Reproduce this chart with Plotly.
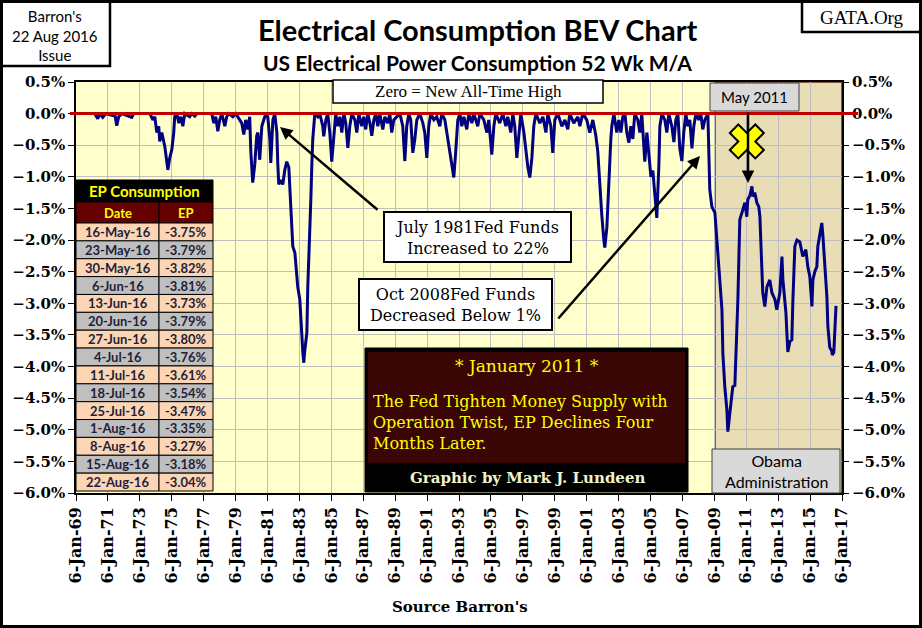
# Electrical Consumption BEV chart (US power consumption, 52 wk M/A, % below all-time high)
import plotly.graph_objects as go
import pandas as pd
from datetime import datetime, timedelta

years = [
    1969.00, 1970.19, 1970.38, 1970.50, 1970.69, 1970.88, 1971.32, 1971.44, 1971.57, 1971.69, 1971.88,
    1972.51, 1972.63, 1973.64, 1973.83, 1973.95,
    1974.08, 1974.20, 1974.26, 1974.39, 1974.58, 1974.64, 1974.77, 1974.89, 1975.02, 1975.14, 1975.20,
    1975.33, 1975.46, 1975.58, 1975.71, 1975.83, 1976.14, 1976.27, 1976.46, 1976.58,
    1977.52, 1977.65, 1977.77, 1977.90, 1978.02, 1978.15, 1978.34, 1978.46, 1978.59, 1978.84,
    1979.03, 1979.40, 1979.53, 1979.65, 1979.78, 1979.90, 1979.97,
    1980.09, 1980.22, 1980.34, 1980.41, 1980.53, 1980.66, 1980.78, 1980.91,
    1981.03, 1981.16, 1981.22, 1981.28, 1981.35, 1981.47, 1981.60, 1981.66, 1981.72, 1981.85, 1981.97,
    1982.10, 1982.22, 1982.35, 1982.41, 1982.54, 1982.60, 1982.73, 1982.85, 1982.91,
    1983.04, 1983.10, 1983.16, 1983.23, 1983.29, 1983.35, 1983.48, 1983.54, 1983.66, 1983.73, 1983.79, 1983.85, 1983.98,
    1984.17, 1984.29, 1984.48, 1984.54, 1984.67, 1984.79, 1984.92,
    1985.04, 1985.17, 1985.29, 1985.42, 1985.55, 1985.67, 1985.80, 1985.92,
    1986.05, 1986.17, 1986.30, 1986.49, 1986.61, 1986.74, 1986.92,
    1987.05, 1987.17, 1987.30, 1987.43, 1987.55, 1987.68, 1987.80, 1987.93,
    1988.05, 1988.24, 1988.37, 1988.55, 1988.68, 1988.80, 1988.93,
    1989.12, 1989.31, 1989.49, 1989.62, 1989.74, 1989.87, 1989.99,
    1990.12, 1990.25, 1990.37, 1990.56, 1990.75, 1990.87,
    1991.00, 1991.12, 1991.25, 1991.44, 1991.62, 1991.81, 1991.94,
    1992.13, 1992.31, 1992.44, 1992.56, 1992.69, 1992.81, 1992.94,
    1993.07, 1993.19, 1993.32, 1993.50, 1993.63, 1993.82, 1993.94,
    1994.19, 1994.32, 1994.57, 1994.76, 1994.88,
    1995.07, 1995.20, 1995.32, 1995.57, 1995.76, 1995.95,
    1996.07, 1996.26, 1996.39, 1996.51, 1996.64, 1996.76, 1996.89,
    1997.08, 1997.20, 1997.33, 1997.45, 1997.58, 1997.70, 1997.83,
    1998.08, 1998.27, 1998.46, 1998.58, 1998.77, 1998.89,
    1999.02, 1999.21, 1999.46, 1999.65, 1999.83, 1999.96,
    2000.21, 2000.46, 2000.59, 2000.77,
    2001.02, 2001.21, 2001.40, 2001.59, 2001.71, 2001.84, 2001.96,
    2002.09, 2002.15, 2002.28, 2002.40, 2002.53, 2002.59, 2002.72, 2002.90,
    2003.03, 2003.16, 2003.28, 2003.41, 2003.53, 2003.66, 2003.78, 2003.91,
    2004.03, 2004.22, 2004.35, 2004.47, 2004.66, 2004.79, 2004.91,
    2005.04, 2005.16, 2005.29, 2005.41, 2005.54, 2005.60, 2005.73, 2005.91,
    2006.04, 2006.16, 2006.35, 2006.48, 2006.60, 2006.73, 2006.85, 2006.98,
    2007.10, 2007.23, 2007.35, 2007.48, 2007.61, 2007.73, 2007.86,
    2008.04, 2008.17, 2008.29, 2008.42, 2008.61, 2008.73, 2008.86,
    2009.05, 2009.23, 2009.36, 2009.49, 2009.55, 2009.61, 2009.67, 2009.80, 2009.86, 2009.99,
    2010.11, 2010.17, 2010.30, 2010.43, 2010.49, 2010.61, 2010.74, 2010.93,
    2011.05, 2011.11, 2011.24, 2011.37, 2011.43, 2011.55, 2011.68, 2011.80, 2011.87, 2011.99,
    2012.05, 2012.18, 2012.31, 2012.49, 2012.62, 2012.81, 2012.93,
    2013.12, 2013.25, 2013.31, 2013.50, 2013.56, 2013.62, 2013.75, 2013.87, 2013.93,
    2014.06, 2014.19, 2014.37, 2014.56, 2014.75, 2014.87,
    2015.00, 2015.13, 2015.19, 2015.31, 2015.44, 2015.50, 2015.63, 2015.75, 2015.81, 2015.94,
    2016.07, 2016.13, 2016.25,
]
ep_pct = [
    0, 0, -0.08, 0, -0.06, 0, -0.03, 0, -0.19, -0.05, 0,
    -0.06, 0, 0, -0.10, -0.05,
    -0.30, -0.20, -0.44, -0.30, -0.52, -0.65, -0.89, -0.70, -0.57, -0.30, -0.05,
    0, -0.15, -0.05, -0.20, 0, -0.05, 0, -0.04, 0,
    0, -0.15, -0.05, -0.28, -0.10, 0, -0.20, -0.05, 0, -0.05,
    0, -0.15, -0.33, -0.10, -0.25, -0.05, -0.60,
    -1.09, -0.80, -0.35, -0.30, -0.73, -0.20, -0.10, 0,
    -0.05, -0.40, -0.78, -0.50, -0.10, 0, -0.30, -0.80, -1.12, -1.05, -1.12,
    -0.89, -0.76, -0.85, -1.15, -2.00, -2.10, -2.20, -2.52, -2.74,
    -2.94, -3.15, -3.47, -3.78, -3.94, -3.75, -3.47, -2.74, -2.04, -1.36, -0.84, -0.41, 0,
    -0.05, 0, -0.20, -0.36, -0.10, 0, -0.30,
    -0.76, -0.30, 0, -0.20, -0.05, -0.30, 0, -0.15,
    -0.54, -0.20, 0, -0.10, -0.30, 0, -0.20,
    -0.05, -0.25, 0, -0.15, -0.35, -0.10, 0, -0.20,
    0, -0.25, -0.05, -0.15, 0, -0.30, -0.10,
    -0.05, 0, -0.20, -0.75, -0.20, 0, -0.10,
    -0.62, -0.40, -0.10, 0, -0.15, -0.30,
    -0.70, -0.20, 0, -0.10, -0.05, -0.20, 0,
    -0.10, -0.40, -0.60, -0.80, -1.01, -0.60, -0.10,
    0, -0.20, -0.05, -0.25, 0, -0.15, 0,
    -0.20, 0, -0.10, -0.30, -0.10,
    -0.65, -0.20, 0, -0.15, 0, -0.20,
    -0.05, -0.30, 0, -0.20, -0.70, -0.30, 0,
    -0.30, -0.60, -0.85, -1.01, -0.70, -0.20, 0,
    -0.15, -0.05, -0.30, 0, -0.20, -0.62,
    -0.10, 0, -0.20, -0.10, -0.25, 0,
    -0.15, -0.05, -0.20, 0,
    -0.10, -0.30, -0.10, -0.35, -0.60, -1.20, -1.60,
    -2.00, -2.12, -1.80, -1.00, -0.40, -0.20, 0, -0.30,
    -0.10, -0.30, -0.05, 0, -0.30, -0.46, -0.20, -0.40,
    0, -0.10, -0.30, 0, -0.76, -0.30, -0.70,
    -1.00, -0.90, -1.30, -1.65, -0.80, -0.20, 0, -0.10,
    -0.30, 0, -0.20, -0.45, -0.10, 0, -0.55, -0.75,
    -0.30, 0, -0.20, -0.10, -0.55, -0.20, 0,
    -0.10, 0, -0.25, -0.10, 0, -1.20, -1.47,
    -1.57, -2.15, -2.60, -3.10, -3.80, -4.16, -4.32, -4.68, -5.03, -4.73,
    -4.47, -4.32, -4.30, -3.47, -2.94, -1.68, -1.57, -1.41,
    -1.63, -1.36, -1.30, -1.15, -1.31, -1.25, -1.41, -1.47, -1.63, -2.42,
    -2.83, -3.05, -2.74, -2.63, -2.83, -2.94, -3.10,
    -2.83, -2.26, -2.63, -3.15, -3.47, -3.77, -3.60, -3.58, -3.00,
    -2.10, -2.00, -2.03, -2.26, -2.15, -2.42,
    -2.58, -3.05, -2.63, -2.50, -2.42, -2.10, -1.90, -1.73, -1.90, -2.40,
    -2.90, -3.36, -3.70,
]

# last 15 weeks, as listed in the chart's table
table_dates = ["16-May-16", "23-May-16", "30-May-16", "6-Jun-16", "13-Jun-16", "20-Jun-16",
               "27-Jun-16", "4-Jul-16", "11-Jul-16", "18-Jul-16", "25-Jul-16", "1-Aug-16",
               "8-Aug-16", "15-Aug-16", "22-Aug-16"]
table_ep = [-3.75, -3.79, -3.82, -3.81, -3.73, -3.79, -3.80, -3.76, -3.61, -3.54, -3.47,
            -3.35, -3.27, -3.18, -3.04]

x_range = ["1969-01-06", "2017-01-06"]
y_range = [-6.0, 0.5]
obama_start = "2009-01-20"
x_mark = (2011.05, -0.44)   # yellow X above the May 2011 peak


def dec_to_date(y):
    base = datetime(int(y), 1, 1)
    return base + timedelta(days=(y - int(y)) * 365.25)


dates = [dec_to_date(y) for y in years] + list(pd.to_datetime(table_dates, format="%d-%b-%y"))
values = ep_pct + table_ep

# plot area in pixels (922x628 canvas)
L, R, T, B = 76, 842, 82, 493


def px(x):
    return (x - L) / (R - L)


def py(y):
    return (B - y) / (B - T)


SERIF = "DejaVu Serif"
TIMES = "Liberation Serif"
SANS = "Lato"

fig = go.Figure()

fig.add_trace(go.Scatter(x=dates, y=values, mode="lines",
                         line=dict(color="#000080", width=3), hoverinfo="skip"))
# invisible copy so the right-hand axis is drawn
fig.add_trace(go.Scatter(x=dates, y=values, mode="lines", yaxis="y2",
                         line=dict(width=0), opacity=0, hoverinfo="skip"))
fig.add_trace(go.Scatter(x=[dec_to_date(x_mark[0])], y=[x_mark[1]], mode="markers",
                         marker=dict(symbol="x", size=30, color="#FFFF00",
                                     line=dict(color="black", width=2)),
                         hoverinfo="skip"))

# Obama administration shading
fig.add_shape(type="rect", xref="x", yref="y", x0=obama_start, x1=x_range[1],
              y0=y_range[0], y1=y_range[1], fillcolor="#E8DDB5",
              line=dict(color="#6B2A10", width=1.5), layer="below")

# zero = all-time high line
zero_y = (0 - y_range[0]) / (y_range[1] - y_range[0])
fig.add_shape(type="line", xref="paper", yref="paper", x0=px(70), x1=px(858),
              y0=zero_y, y1=zero_y, line=dict(color="#C00000", width=3), layer="above")


def box(x0, y0, x1, y1, fill, line="black", lw=1.5):
    fig.add_shape(type="rect", xref="paper", yref="paper", x0=px(x0), x1=px(x1),
                  y0=py(y1), y1=py(y0), fillcolor=fill,
                  line=dict(color=line, width=lw), layer="above")


def text(x, y, s, size, family, color="black", bold=False, xanchor="center",
         yanchor="middle", align="center"):
    fig.add_annotation(xref="paper", yref="paper", x=px(x), y=py(y), text=s,
                       showarrow=False, xanchor=xanchor, yanchor=yanchor, align=align,
                       font=dict(family=family, size=size, color=color,
                                 weight="bold" if bold else "normal"))


def arrow(x, y, ax, ay):
    fig.add_annotation(xref="paper", yref="paper", x=px(x), y=py(y), ax=ax, ay=ay,
                       text="", showarrow=True, arrowhead=2, arrowsize=1,
                       arrowwidth=2.5, arrowcolor="black")


# EP Consumption table (title, header, 15 weekly rows)
tab_x0, tab_xm, tab_x1 = 76, 159, 213
box(tab_x0, 180, tab_x1, 202, "black", lw=1)
text((tab_x0 + tab_x1) / 2, 191, "EP Consumption", 15, SANS, color="#FFFF00", bold=True)
box(tab_x0, 202, tab_xm, 223, "#660000", lw=1)
box(tab_xm, 202, tab_x1, 223, "#660000", lw=1)
text((tab_x0 + tab_xm) / 2, 212.5, "Date", 13, SANS, color="#FFFF00", bold=True)
text((tab_xm + tab_x1) / 2, 212.5, "EP", 13, SANS, color="#FFFF00", bold=True)
row_h = (491 - 223) / len(table_dates)
for i, (d, v) in enumerate(zip(table_dates, table_ep)):
    fill = "#FCD5B4" if i % 2 == 0 else "#BFBFBF"
    top = 223 + i * row_h
    box(tab_x0, top, tab_xm, top + row_h, fill, lw=1)
    box(tab_xm, top, tab_x1, top + row_h, fill, lw=1)
    text((tab_x0 + tab_xm) / 2, top + row_h / 2, d, 13, SANS, color="#1F1F3A", bold=True)
    text((tab_xm + tab_x1) / 2, top + row_h / 2, f"{v:.2f}%", 13, SANS, color="#1F1F3A", bold=True)

# header boxes
box(0, 0, 110, 66, "white", lw=2.5)
text(55, 35, "Barron's<br>22 Aug 2016<br>Issue", 15, SANS)
box(802, 0, 922, 32, "white", lw=2.5)
text(862, 18, "GATA.Org", 19, TIMES)
text(478, 29, "Electrical Consumption BEV Chart", 29, SANS, bold=True)
text(478, 63, "US Electrical Power Consumption 52 Wk M/A", 21, SANS, bold=True)

# notes inside the plot
box(333, 80, 603, 103, "white", lw=1.5)
text(468, 92, "Zero = New All-Time High", 17, TIMES)

box(710, 83, 799, 111, "#D9D9D9", line="#404040", lw=1)
text(754, 97, "May 2011", 15, SANS)
arrow(748, 183, 0, -72)

box(384, 212, 571, 262, "white", lw=2)
text(477, 238, "July 1981Fed Funds<br>Increased to 22%", 16, SERIF)
arrow(280, 127, 99, 84)

box(359, 279, 552, 330, "white", lw=2)
text(455, 305, "Oct 2008Fed Funds<br>Decreased Below 1%", 16, SERIF)
arrow(700, 156, -143, 164)

box(365, 348, 688, 492, "black", lw=1)
box(368, 352, 685, 463, "#3A0505", line="#3A0505", lw=0.5)
text(527, 366, "* January 2011 *", 17, SERIF, color="#FFFF00")
text(371, 390, "The Fed Tighten Money Supply with<br>Operation Twist, EP Declines Four<br>Months Later.",
     16, SERIF, color="#FFFF00", xanchor="left", yanchor="top", align="left")
text(527, 478, "Graphic by Mark J. Lundeen", 15, SERIF, color="#F2F2C8", bold=True)

box(712, 449, 840, 493, "#D9D9D9", line="#404040", lw=1)
text(776, 471, "Obama<br>Administration", 16, SANS)

text(460, 607, "Source Barron's", 15, SERIF, bold=True)

# outer frame
box(0, 0, 922, 628, "rgba(0,0,0,0)", lw=6)

tick_font = dict(family=SERIF, size=15, color="black", weight="bold")
y_common = dict(range=y_range, dtick=0.5, tick0=0, tickformat=".1f", ticksuffix="%",
                ticks="outside", ticklen=6, tickcolor="black", tickfont=tick_font,
                zeroline=False)

fig.update_layout(
    template="none",
    width=922, height=628,
    margin=dict(l=L, r=922 - R, t=T, b=628 - B),
    paper_bgcolor="white",
    plot_bgcolor="#FFFFCC",
    showlegend=False,
    xaxis=dict(type="date", range=x_range, tick0="1969-01-06", dtick="M24",
               tickformat="%-d-%b-%y", tickangle=-90, ticks="outside", ticklen=6,
               tickcolor="black", tickfont=dict(tick_font, size=16), showgrid=True,
               gridcolor="#BFBFBF", gridwidth=1, showline=True, linecolor="black",
               linewidth=1.5, mirror=True, zeroline=False),
    yaxis=dict(**y_common, showgrid=True, gridcolor="#BFBFBF", gridwidth=1,
               showline=True, linecolor="black", linewidth=1.5, mirror=True),
    yaxis2=dict(**y_common, overlaying="y", side="right", showgrid=False),
)

fig.write_html("out.html", config={"displayModeBar": False},
               post_script="document.body.style.margin='0';")
